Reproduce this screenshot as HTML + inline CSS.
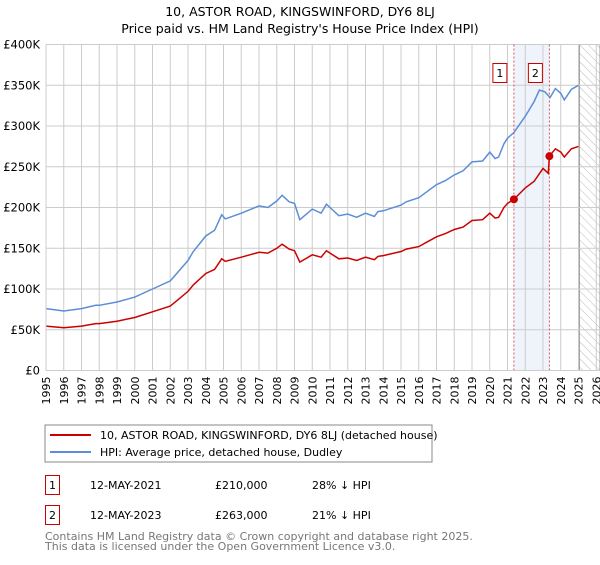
<!DOCTYPE html>
<html><head><meta charset="utf-8"><style>
body{margin:0;background:#fff;font-family:"Liberation Sans","DejaVu Sans",sans-serif;}
svg text{font-family:"DejaVu Sans","Liberation Sans",sans-serif;}
</style></head><body>
<svg id="c" width="600" height="560" xmlns="http://www.w3.org/2000/svg">
<defs><pattern id="hatch" width="6" height="6" patternUnits="userSpaceOnUse" patternTransform="rotate(-45)"><line x1="0" y1="0" x2="0" y2="6" stroke="#bbb" stroke-width="1"/></pattern></defs>
<text x="300" y="16" text-anchor="middle" font-size="12.5">10, ASTOR ROAD, KINGSWINFORD, DY6 8LJ</text>
<text x="300" y="33" text-anchor="middle" font-size="12.5">Price paid vs. HM Land Registry's House Price Index (HPI)</text>
<g id="grid"></g><g id="marks"></g><g id="axes"></g>
<rect x="45" y="425" width="387" height="37" fill="#fff" stroke="#888"/>
<line x1="50" y1="435" x2="91" y2="435" stroke="#cc0000" stroke-width="2"/>
<text x="100" y="439" font-size="11">10, ASTOR ROAD, KINGSWINFORD, DY6 8LJ (detached house)</text>
<line x1="50" y1="452" x2="91" y2="452" stroke="#5b8ed6" stroke-width="2"/>
<text x="100" y="456" font-size="11">HPI: Average price, detached house, Dudley</text>
<g font-size="11">
<rect x="45.5" y="475.5" width="14" height="19" fill="none" stroke="#cc0000"/>
<text x="52.5" y="489" text-anchor="middle">1</text>
<text x="90" y="489">12-MAY-2021</text><text x="215" y="489">£210,000</text><text x="312" y="489">28% ↓ HPI</text>
<rect x="45.5" y="505.5" width="14" height="19" fill="none" stroke="#cc0000"/>
<text x="52.5" y="519" text-anchor="middle">2</text>
<text x="90" y="519">12-MAY-2023</text><text x="215" y="519">£263,000</text><text x="312" y="519">21% ↓ HPI</text>
</g>
<text x="45" y="540" font-size="11" fill="#777">Contains HM Land Registry data © Crown copyright and database right 2025.</text>
<text x="45" y="550" font-size="11" fill="#777">This data is licensed under the Open Government Licence v3.0.</text>
</svg>
<script>
const hpiYears=[1995,1996,1997,1997.8,1998,1999,2000,2001,2002,2003,2003.3,2004,2004.5,2004.9,2005.1,2006,2007,2007.5,2008,2008.3,2008.7,2009,2009.3,2010,2010.5,2010.8,2011,2011.5,2012,2012.5,2013,2013.5,2013.7,2014,2015,2015.3,2016,2016.5,2017,2017.5,2018,2018.5,2019,2019.6,2020,2020.3,2020.5,2020.8,2021,2021.36,2022,2022.5,2022.8,2023.1,2023.4,2023.7,2024,2024.2,2024.6,2025];
const hpiValues=[76,73,76,80,80,84,90,100,110,135,146,165,172,191,186,193,202,200,208,215,207,205,185,198,193,204,200,190,192,188,193,189,195,196,203,207,212,220,228,233,240,245,256,257,268,260,262,278,285,292,312,330,344,342,335,346,340,332,345,350];
const redYears=[1995,1996,1997,1997.8,1998,1999,2000,2001,2002,2003,2003.3,2004,2004.5,2004.9,2005.1,2006,2007,2007.5,2008,2008.3,2008.7,2009,2009.3,2010,2010.5,2010.8,2011,2011.5,2012,2012.5,2013,2013.5,2013.7,2014,2015,2015.3,2016,2016.5,2017,2017.5,2018,2018.5,2019,2019.6,2020,2020.3,2020.5,2020.8,2021,2021.36,2022,2022.5,2023,2023.3,2023.36,2023.7,2024,2024.2,2024.6,2025];
const redValues=[54.5,52.5,54.5,57.5,57.5,60.5,65,72,79,97,105,119,124,137,134,139,145,144,150,155,149,147,133,142,139,147,144,137,138,135,139,136,140,141,146,149,152,158,164,168,173,176,184,185,193,187,188,200,205,210,224,232,248,242,263,272,268,262,272,275];
const salesYears=[2021.36,2023.36];
const salesValues=[210,263];
const yTicks=[0,50,100,150,200,250,300,350,400];
const yLabels=["£0","£50K","£100K","£150K","£200K","£250K","£300K","£350K","£400K"];
const xYears=[];for(let y=1995;y<=2026;y++)xYears.push(y);
const X0=46,YW=17.75,YB=370.5,YT=44.5;
const sx=y=>X0+(y-1995)*YW, sy=v=>YB-(v/400)*(YB-YT);
const NS="http://www.w3.org/2000/svg";
function mk(t,a,p){const e=document.createElementNS(NS,t);for(const k in a)e.setAttribute(k,a[k]);p.appendChild(e);return e;}
const grid=document.getElementById('grid'),marks=document.getElementById('marks'),axes=document.getElementById('axes');
const shade=mk('rect',{x:sx(salesYears[0]),y:YT,width:sx(salesYears[1])-sx(salesYears[0]),height:YB-YT,fill:'#eef3fc'},grid);


const hat=mk('rect',{x:sx(2025.05),y:YT,width:600-sx(2025.05),height:YB-YT,fill:'url(#hatch)',stroke:'#999'},grid);


xYears.forEach(y=>{const l=mk('line',{x1:sx(y),x2:sx(y),y1:YT,y2:YB,stroke:'#ccc'},grid);


const t=mk('text',{x:0,y:0,'font-size':11,'text-anchor':'end',transform:`translate(${sx(y)+4},${YB+6}) rotate(-90)`},axes);t.textContent=y;

});
yTicks.forEach((v,i)=>{const l=mk('line',{x1:X0,x2:600,y1:sy(v),y2:sy(v),stroke:'#ccc'},grid);


const t=mk('text',{x:X0-6,y:sy(v)+4,'font-size':11.5,'text-anchor':'end'},axes);t.textContent=yLabels[i];

});
salesYears.forEach(y=>{const l=mk('line',{x1:sx(y),x2:sx(y),y1:YT,y2:YB,stroke:'#e05050','stroke-dasharray':'2,2'},grid);

});
function path(xs,vs,c,n){const d=xs.map((x,i)=>(i?'L':'M')+sx(x).toFixed(1)+','+sy(vs[i]).toFixed(1)).join('');
const p=mk('path',{d:d,fill:'none',stroke:c,'stroke-width':1.5},marks);

}
path(hpiYears,hpiValues,'#5b8ed6','hpi-line');
path(redYears,redValues,'#cc0000','property-line');
salesYears.forEach((y,i)=>{const c=mk('circle',{cx:sx(y),cy:sy(salesValues[i]),r:4,fill:'#cc0000'},marks);


const b=mk('rect',{x:sx(y)-21,y:63.5,width:14,height:19,fill:'#fff',stroke:'#cc0000'},marks);


const t=mk('text',{x:sx(y)-14,y:77,'font-size':11,'text-anchor':'middle'},marks);t.textContent=i+1;

});
const ax=mk('path',{d:`M${X0},${YT}V${YB}H600`,fill:'none',stroke:'#ccc'},axes);


</script>
</body></html>
